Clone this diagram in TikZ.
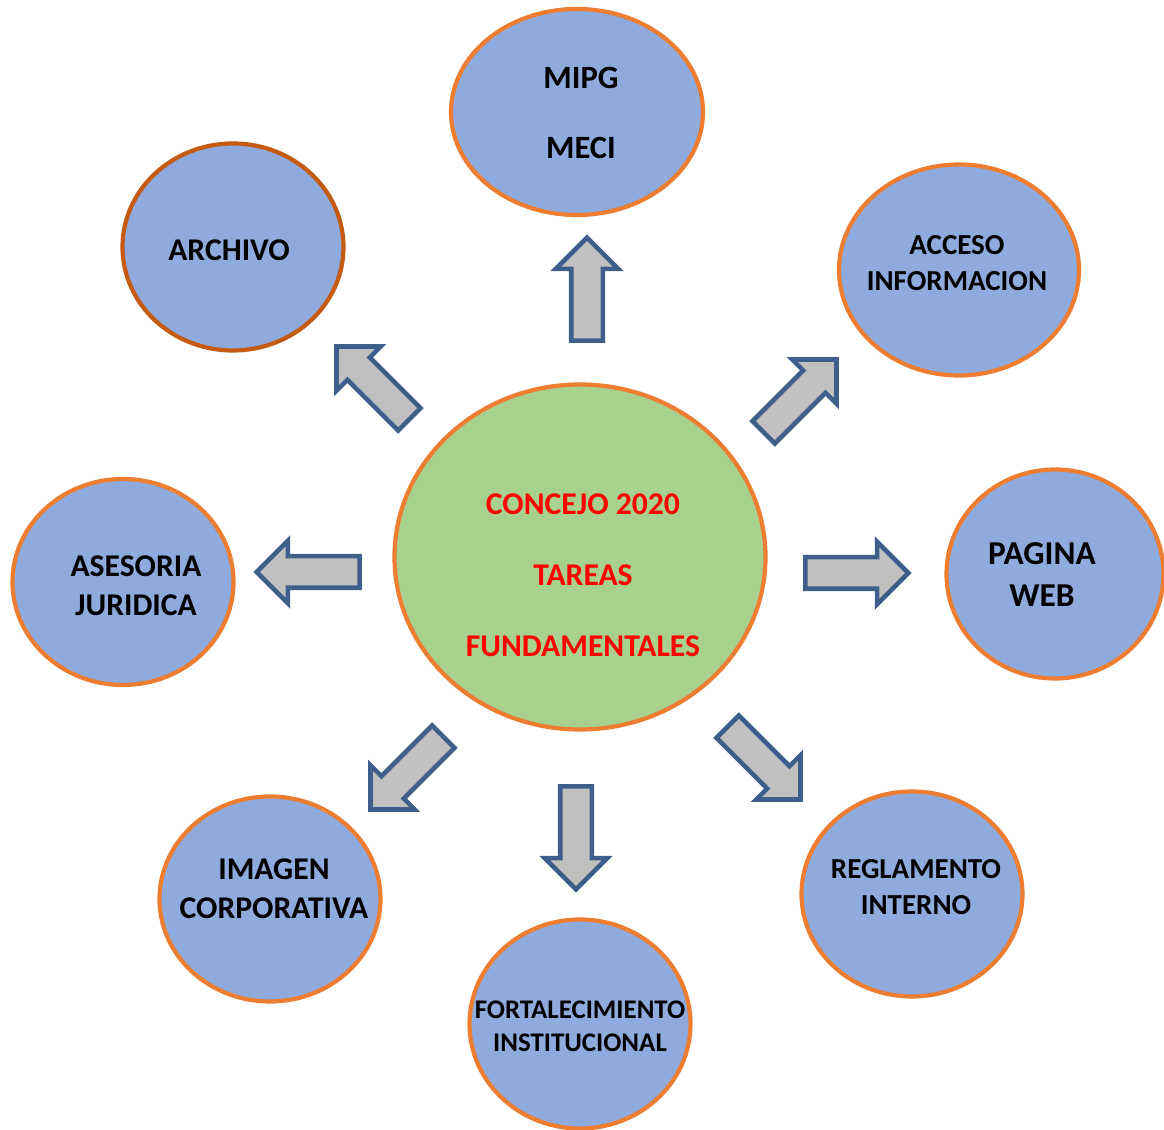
\documentclass[tikz,border=0pt]{standalone}
\usepackage{fontspec}
\setmainfont{Carlito}
\usetikzlibrary{shapes.geometric,shapes.arrows}
\definecolor{circblue}{HTML}{8FAADC}
\definecolor{circorange}{HTML}{ED7D31}
\definecolor{darkorange}{HTML}{C55A11}
\definecolor{centergreen}{HTML}{A9D18E}
\definecolor{arrowgray}{HTML}{C0C0C0}
\definecolor{arrowblue}{HTML}{3E5F8C}

\begin{document}
\begin{tikzpicture}[
  tarea/.style={ellipse,draw=circorange,fill=circblue,line width=2.4pt,inner sep=0pt},
  texto/.style={align=center,font=\bfseries\fontsize{#1}{#1}\selectfont},
  flecha/.style={single arrow,draw=arrowblue,fill=arrowgray,line width=2.6pt,
    minimum height=2.06cm,single arrow head extend=0.31cm,inner xsep=0pt,inner ysep=0.27cm}]
\useasboundingbox (0,0) rectangle (23.28,22.6);

\node [tarea,fill=centergreen,minimum width=7.42cm,minimum height=6.9cm] (centro) at (11.6,11.46) {};
\node [tarea,minimum width=5.04cm,minimum height=4.12cm] (mipg) at (11.54,20.36) {};
\node [tarea,draw=darkorange,minimum width=4.42cm,minimum height=4.14cm] (archivo) at (4.66,17.66) {};
\node [tarea,minimum width=4.8cm,minimum height=4.22cm] (acceso) at (19.18,17.2) {};
\node [tarea,minimum width=4.34cm,minimum height=4.18cm] (pagina) at (21.1,11.12) {};
\node [tarea,minimum width=4.42cm,minimum height=4.12cm] (asesoria) at (2.46,10.96) {};
\node [tarea,minimum width=4.42cm,minimum height=4.1cm] (imagen) at (5.4,4.62) {};
\node [tarea,minimum width=4.42cm,minimum height=4.18cm] (fortal) at (11.6,2.12) {};
\node [tarea,minimum width=4.42cm,minimum height=4.1cm] (reglamento) at (18.24,4.72) {};

\node [texto=18pt,font=\bfseries\fontsize{18pt}{40.4pt}\selectfont,text=red] (t-centro) at (11.66,11.1)
  {CONCEJO 2020\\TAREAS\\FUNDAMENTALES};
\node [texto=18pt,font=\bfseries\fontsize{18.5pt}{39.8pt}\selectfont] (t-mipg) at (11.62,20.34) {MIPG\\MECI};
\node [texto=18pt] (t-archivo) at (4.58,17.6) {ARCHIVO};
\node [texto=16.5pt,font=\bfseries\fontsize{16.5pt}{20.5pt}\selectfont] (t-acceso) at (19.14,17.34) {ACCESO\\INFORMACION};
\node [texto=19pt,font=\bfseries\fontsize{19pt}{23.9pt}\selectfont] (t-pagina) at (20.84,11.1) {PAGINA\\WEB};
\node [texto=18pt,font=\bfseries\fontsize{18pt}{22.2pt}\selectfont] (t-asesoria) at (2.72,10.88) {ASESORIA\\JURIDICA};
\node [texto=18pt,font=\bfseries\fontsize{18pt}{22.2pt}\selectfont] (t-imagen) at (5.48,4.82) {IMAGEN\\CORPORATIVA};
\node [texto=15.3pt,font=\bfseries\fontsize{15.3pt}{18.8pt}\selectfont] (t-fortal) at (11.6,2.08) {FORTALECIMIENTO\\INSTITUCIONAL};
\node [texto=16.5pt,font=\bfseries\fontsize{16.5pt}{20.5pt}\selectfont] (t-reglamento) at (18.32,4.86) {REGLAMENTO\\INTERNO};

\node [flecha,rotate=90] (f-mipg) at (11.74,16.66) {};
\node [flecha,rotate=135] (f-archivo) at (7.57,14.83) {};
\node [flecha,rotate=45] (f-acceso) at (15.89,14.57) {};
\node [flecha,rotate=0] (f-pagina) at (16.98,11.14) {};
\node [flecha,rotate=180] (f-asesoria) at (6.32,11.16) {};
\node [flecha,rotate=225] (f-imagen) at (8.25,7.25) {};
\node [flecha,rotate=270] (f-fortal) at (11.52,6.0) {};
\node [flecha,rotate=-45] (f-reglamento) at (15.17,7.45) {};
\end{tikzpicture}
\end{document}
